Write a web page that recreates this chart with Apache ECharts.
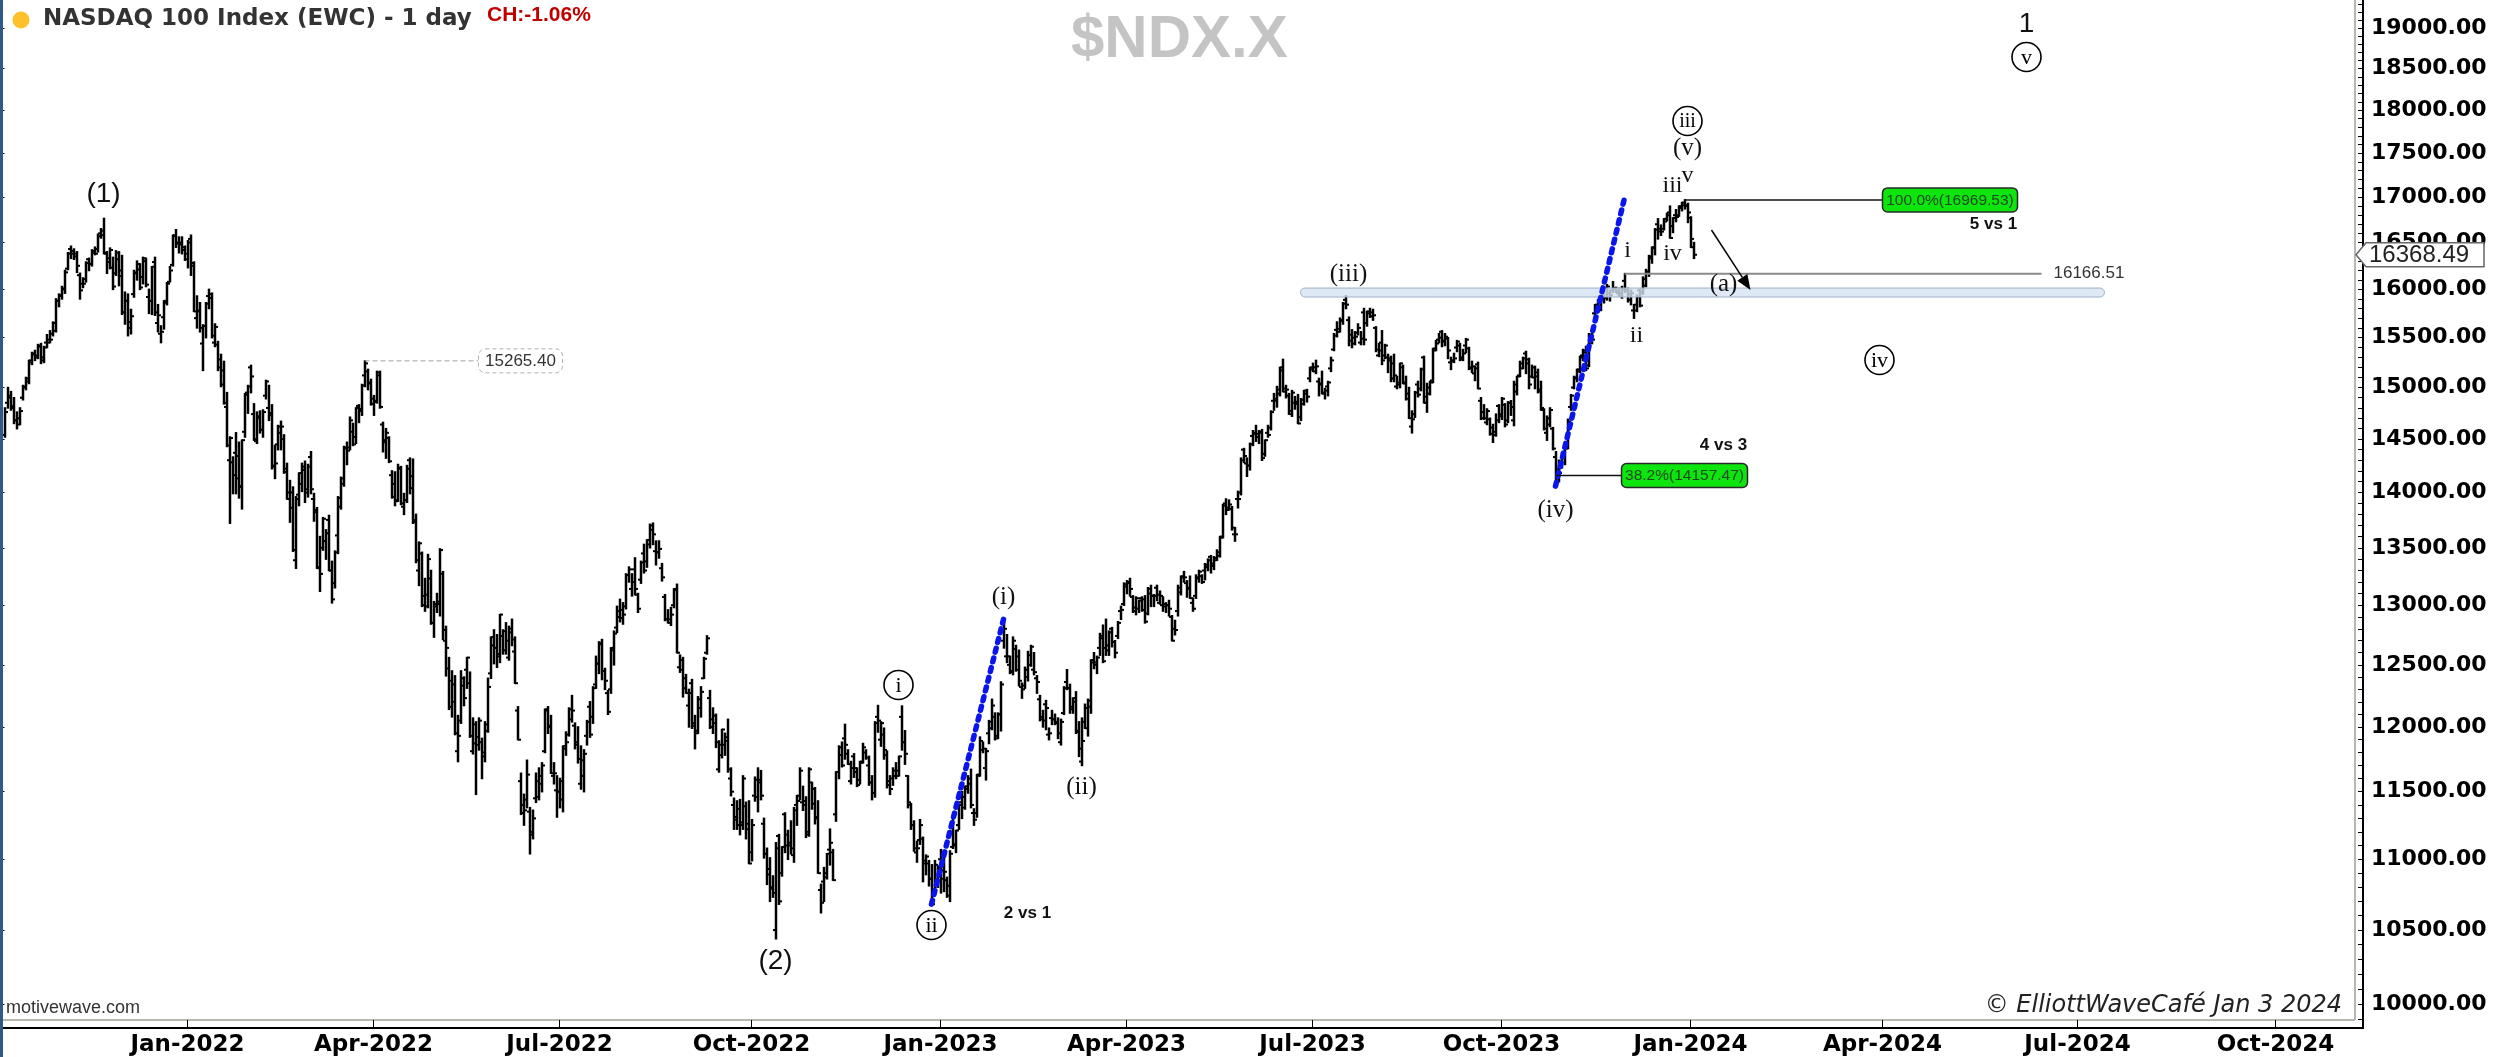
<!DOCTYPE html>
<html><head><meta charset="utf-8">
<script src="https://cdn.jsdelivr.net/npm/echarts/dist/echarts.min.js"></script>
<style>html,body{margin:0;padding:0;background:#fff;overflow:hidden}#chart{width:2494px;height:1057px}</style>
</head><body><div id="chart"></div>
<script>
// ---------------- DATA (daily OHLC of $NDX.X) ----------------
const oct2021 = [[14540,14800,14520,14760],[14850,15000,14800,14900],[14920,14960,14780,14820],[14800,14900,14650,14680],[14680,14760,14600,14640],[14700,14800,14640,14770],[14900,15020,14880,15000],[15010,15100,14980,15090],[15060,15270,15040,15250],[15270,15350,15230,15330],[15340,15370,15270,15320],[15300,15430,15290,15420],[15410,15440,15240,15270],[15300,15410,15250,15400],[15450,15530,15400,15450],[15480,15570,15450,15480],[15540,15660,15520,15650],[15570,15900,15560,15880]];
const nov2021 = [[15880,15950,15820,15930],[15940,16030,15900,16000],[16010,16200,15960,16180],[16220,16390,16210,16380],[16430,16460,16330,16380],[16410,16430,16320,16350],[16380,16400,16180,16250],[16150,16170,15900,15990],[16060,16120,16020,16060],[16110,16290,16080,16280],[16320,16330,16200,16270],[16270,16420,16250,16390],[16410,16450,16370,16380],[16430,16590,16400,16570],[16600,16650,16550,16580],[16630,16764,16380,16390],[16380,16400,16170,16330],[16290,16440,16220,16420],[16230,16340,16000,16030],[16170,16410,16150,16390],[16320,16400,16040,16140]];
const dec2021 = [[16200,16360,15740,15760],[15760,15970,15640,15880],[15880,15950,15520,15600],[15660,15790,15540,15720],[15950,16200,15920,16180],[16170,16300,16100,16270],[16210,16270,16000,16020],[16130,16340,16060,16330],[16300,16330,16030,16050],[15920,16000,15750,15880],[15880,16240,15740,16240],[16290,16340,15730,15760],[15650,15840,15560,15730],[15540,15620,15450,15560],[15710,15880,15590,15880],[15860,16070,15840,16060],[16080,16240,16080,16200],[16260,16580,16250,16570],[16580,16640,16450,16490],[16500,16560,16390,16500],[16480,16560,16380,16450],[16420,16460,16310,16320]];
const jan2022 = [[16380,16520,16230,16500],[16540,16580,16150,16280],[16250,16290,15770,15770],[15700,15930,15600,15770],[15780,15860,15560,15600],[15440,15630,15170,15620],[15620,15860,15500,15850],[15930,16000,15800,15910],[15950,15960,15500,15520],[15450,15640,15410,15610],[15430,15460,15170,15200],[15280,15330,15010,15030],[15170,15260,14840,14850],[14810,14950,14430,14440],[14300,14520,13720,14510],[14280,14330,13990,14160],[14370,14560,13990,14130],[14340,14470,13950,14050],[14060,14490,13850,14490],[14570,14940,14520,14930]];
const feb2022 = [[14950,15020,14750,15010],[15200,15220,14950,15110],[14740,14840,14490,14500],[14480,14760,14460,14700],[14720,14770,14560,14590],[14590,14780,14520,14760],[14920,15070,14890,15060],[14800,15020,14680,14730],[14750,14830,14220,14250],[14240,14440,14130,14270],[14450,14630,14400,14620],[14560,14670,14400,14620],[14500,14540,14180,14190],[14220,14270,13940,14000],[13940,14110,13730,13860],[14000,14050,13470,13480],[13390,13960,13320,13940],[13980,14180,13880,14180],[14080,14270,14010,14240]];
const mar2022 = [[14210,14290,13910,14000],[14030,14260,13960,14240],[14330,14380,13990,14030],[13940,13990,13740,13840],[13820,13860,13320,13320],[13330,13600,13120,13270],[13500,13770,13480,13760],[13560,13660,13400,13630],[13750,13790,13300,13300],[13300,13380,13020,13050],[13190,13470,13150,13460],[13610,13960,13450,13950],[13870,14140,13850,14130],[14080,14430,14060,14420],[14410,14470,14260,14390],[14420,14710,14400,14680],[14570,14650,14440,14450],[14520,14800,14460,14800],[14820,14830,14660,14790],[14770,15030,14730,15020],[15120,15265,15010,15240],[15160,15180,14980,15050],[15040,15080,14830,14840]];
const apr2022 = [[14890,14920,14730,14860],[14870,15160,14850,15150],[15120,15160,14800,14810],[14640,14660,14380,14490],[14470,14600,14320,14560],[14510,14520,14280,14290],[14160,14200,13950,13960],[14080,14190,13880,13920],[13930,14260,13920,14230],[14220,14240,13890,13900],[13870,13990,13800,13930],[13930,14250,13910,14220],[14300,14320,13990,14040],[14150,14310,13720,13750],[13730,13800,13370,13390],[13300,13550,13170,13540],[13450,13460,12990,13000],[13080,13230,12950,12990],[13090,13440,12980,13400],[13230,13300,12840,12850]];
const may2022 = [[12850,13030,12730,13010],[12990,13100,12940,13030],[13010,13490,12910,13480],[13270,13290,12710,12790],[12700,12820,12410,12640],[12470,12560,12140,12160],[12370,12450,12080,12340],[12200,12410,11940,11950],[11810,12090,11730,11930],[12050,12450,12030,12390],[12330,12400,12170,12230],[12460,12560,12310,12560],[12350,12440,11920,11930],[11810,12070,11790,11870],[12020,12040,11480,11860],[11920,12070,11820,12050],[11880,11910,11600,11800],[11770,12040,11730,11970],[12020,12390,11960,12320],[12430,12730,12390,12730],[12660,12790,12510,12640]];
const jun2022 = [[12640,12750,12480,12590],[12570,12920,12520,12920],[12740,12790,12590,12620],[12780,12850,12590,12700],[12560,12820,12540,12800],[12770,12880,12660,12710],[12610,12730,12350,12350],[12130,12160,11900,11900],[11580,11640,11330,11340],[11400,11480,11250,11360],[11440,11740,11380,11630],[11350,11380,11040,11180],[11200,11360,11150,11300],[11450,11640,11420,11580],[11460,11680,11440,11560],[11620,11720,11500,11700],[11810,12140,11800,12130],[12140,12160,11950,12000],[12010,12090,11640,11640],[11620,11720,11560,11640],[11510,11620,11310,11500]];
const jul2022 = [[11500,11600,11380,11580],[11440,11850,11350,11830],[11850,11960,11780,11880],[11940,12150,11930,12140],[12060,12250,12040,12130],[12010,12030,11830,11860],[11880,12000,11720,11750],[11560,11850,11520,11740],[11620,11820,11500,11790],[11930,12050,11860,12040],[12160,12200,11920,11940],[12080,12320,12030,12310],[12340,12570,12310,12510],[12510,12690,12430,12680],[12670,12710,12380,12450],[12450,12470,12300,12370],[12270,12290,12100,12120],[12300,12640,12270,12620],[12640,12780,12500,12760],[12810,12990,12770,12950]];
const aug2022 = [[12900,13050,12860,12960],[12890,13020,12840,12920],[12990,13270,12970,13260],[13260,13330,13200,13310],[13140,13270,13080,13200],[13310,13410,13090,13140],[13090,13100,12940,12970],[13220,13380,13190,13370],[13450,13530,13280,13300],[13380,13570,13330,13570],[13530,13710,13500,13700],[13660,13720,13530,13620],[13470,13560,13350,13460],[13460,13560,13410,13490],[13320,13360,13210,13240],[13070,13090,12870,12880],[12880,12960,12850,12880],[12850,12980,12830,12920],[13000,13140,12980,13140],[13130,13180,12600,12600],[12480,12580,12440,12460],[12540,12560,12240,12310],[12390,12420,12270,12270]];
const sep2022 = [[12170,12300,12000,12270],[12350,12380,11990,12010],[12030,12090,11830,11950],[11970,12240,11950,12220],[12150,12320,12080,12280],[12390,12560,12390,12550],[12600,12740,12590,12720],[12230,12290,11990,12000],[12060,12150,11950,12090],[12030,12100,11840,11880],[11670,11890,11650,11860],[11780,11980,11760,11980],[11860,11950,11780,11890],[11920,12060,11650,11670],[11600,11680,11470,11500],[11400,11450,11220,11310],[11290,11430,11220,11250],[11370,11440,11180,11270],[11250,11620,11220,11600],[11390,11420,11150,11260],[11220,11430,10970,10970]];
const oct2022 = [[11050,11290,10990,11250],[11470,11610,11430,11590],[11460,11680,11350,11590],[11570,11660,11440,11470],[11260,11300,11010,11040],[11040,11080,10820,10930],[10890,11010,10700,10790],[10800,10880,10730,10760],[10500,11120,10440,11080],[11170,11180,10680,10700],[10900,11090,10880,11090],[11330,11340,11050,11180],[11100,11210,11000,11120],[11100,11280,11040,11080],[11030,11380,10980,11360],[11400,11470,11250,11430],[11470,11680,11440,11660],[11420,11540,11360,11400],[11430,11460,11160,11180],[11200,11680,11170,11670],[11570,11570,11370,11410]];
const nov2022 = [[11520,11530,11260,11300],[11310,11430,10900,10900],[10780,10820,10620,10690],[10840,10940,10700,10870],[10900,11040,10860,11040],[11070,11220,10960,11120],[11050,11070,10850,10850],[11330,11650,11280,11650],[11650,11850,11600,11840],[11780,11880,11690,11700],[11910,12020,11750,11860],[11790,11820,11710,11710],[11580,11730,11560,11680],[11770,11790,11610,11680],[11650,11680,11540,11550],[11590,11730,11560,11720],[11730,11870,11720,11840],[11800,11820,11750,11760],[11700,11770,11550,11570],[11570,11620,11440,11490],[11490,12040,11460,12030]];
const dec2022 = [[12080,12170,11960,12050],[11900,12040,11850,12030],[11940,11990,11750,11820],[11780,11810,11530,11580],[11550,11620,11480,11520],[11600,11680,11550,11660],[11620,11720,11600,11620],[11660,11770,11620,11770],[12080,12166,11820,11880],[11880,11970,11710,11790],[11620,11620,11380,11420],[11400,11410,11220,11250],[11250,11280,11060,11080],[11050,11130,10980,11080],[11140,11290,11110,11250],[11150,11160,10840,10990],[10970,11030,10890,11020],[10970,10990,10810,10860],[10860,10960,10680,10680],[10780,10990,10770,10960],[10860,10950,10800,10940]];
const jan2023 = [[11000,11070,10760,10860],[10920,11010,10770,10910],[10850,10870,10730,10740],[10810,11060,10700,11040],[11090,11300,11080,11110],[11100,11210,11050,11210],[11250,11400,11220,11400],[11420,11500,11300,11460],[11380,11540,11370,11540],[11520,11620,11490,11560],[11600,11670,11380,11400],[11340,11370,11250,11290],[11340,11630,11310,11620],[11630,11920,11620,11890],[11820,11880,11800,11830],[11680,11830,11590,11810],[11950,12050,11870,12040],[11990,12220,11980,12170],[12080,12110,11900,11910],[11930,12110,11910,12100]];
const feb2023 = [[12100,12360,11970,12340],[12700,12880,12640,12800],[12570,12750,12520,12570],[12500,12570,12430,12450],[12440,12730,12420,12700],[12630,12660,12450,12460],[12570,12620,12330,12370],[12320,12350,12230,12300],[12330,12480,12310,12460],[12400,12610,12370,12580],[12500,12660,12490,12650],[12460,12600,12420,12440],[12390,12410,12270,12360],[12220,12250,12050,12060],[12080,12130,12000,12050],[12180,12210,11980,12150],[11940,11990,11900,11950],[12070,12130,12020,12060],[12060,12100,12020,12040]];
const mar2023 = [[12030,12070,11910,11950],[11880,12060,11860,12040],[12110,12320,12100,12310],[12360,12460,12300,12310],[12310,12340,12110,12140],[12160,12230,12110,12200],[12230,12280,11950,11960],[11970,12040,11770,11830],[11730,12070,11700,11890],[12040,12180,11990,12150],[11990,12220,11930,12210],[12160,12540,12110,12520],[12540,12600,12470,12520],[12500,12570,12430,12560],[12640,12760,12580,12740],[12720,12830,12520,12530],[12640,12880,12580,12660],[12620,12780,12580,12770],[12800,12810,12650,12690],[12690,12700,12560,12600],[12740,12860,12720,12850],[12950,12990,12880,12960],[13010,13190,13000,13180]];
const apr2023 = [[13160,13210,13100,13190],[13200,13230,13080,13140],[13070,13080,12940,12980],[12950,13070,12920,13060],[12970,13040,12940,13040],[13060,13070,12950,12960],[13050,13080,12850,12860],[12930,13150,12920,13140],[13100,13170,12990,13080],[13080,13090,12990,13080],[13150,13170,13040,13090],[13020,13120,13010,13080],[13000,13070,12950,12990],[13010,13020,12940,13000],[13000,13040,12910,12970],[12900,12910,12700,12700],[12800,12870,12750,12790],[12950,13170,12910,13150],[13110,13250,13090,13250]];
const may2023 = [[13240,13290,13200,13240],[13190,13210,13070,13140],[13150,13250,13060,13060],[13020,13060,12950,12970],[13080,13260,13060,13240],[13230,13300,13200,13290],[13250,13260,13190,13200],[13300,13360,13220,13350],[13330,13400,13300,13390],[13420,13430,13280,13340],[13360,13420,13310,13410],[13390,13480,13390,13430],[13460,13600,13420,13590],[13600,13890,13590,13880],[13900,13940,13800,13840],[13860,13930,13840,13890],[13850,13870,13660,13680],[13620,13680,13560,13620],[13940,14010,13860,13940],[14000,14320,13980,14300],[14400,14410,14280,14340],[14270,14320,14150,14250]];
const jun2023 = [[14250,14460,14210,14450],[14530,14580,14440,14550],[14560,14630,14480,14550],[14520,14580,14460,14560],[14570,14590,14300,14320],[14360,14490,14340,14490],[14560,14630,14520,14540],[14610,14770,14590,14760],[14870,14940,14780,14870],[14890,15010,14810,14980],[14940,15200,14920,15170],[15200,15280,14960,14990],[14960,15020,14900,14980],[14920,14940,14740,14770],[14740,14970,14720,14950],[14850,14910,14790,14840],[14860,14930,14650,14650],[14710,14890,14680,14880],[14840,14970,14830,14940],[14970,14980,14860,14910],[15090,15200,15060,15180]];
const jul2023 = [[15200,15240,15160,15200],[15160,15270,15140,15210],[15060,15090,14920,15040],[15030,15160,14940,14940],[14950,14990,14890,14970],[15010,15060,14920,15050],[15190,15300,15160,15270],[15380,15540,15370,15520],[15580,15660,15510,15560],[15590,15700,15560,15670],[15680,15860,15640,15850],[15890,15932,15800,15840],[15680,15710,15420,15470],[15530,15580,15400,15440],[15500,15560,15430,15510],[15550,15640,15530,15600],[15450,15560,15430,15490],[15760,15800,15430,15480],[15650,15770,15620,15750],[15770,15800,15710,15760]];
const aug2023 = [[15720,15790,15680,15730],[15600,15610,15360,15380],[15320,15440,15310,15370],[15450,15570,15230,15270],[15320,15430,15290,15420],[15300,15330,15150,15270],[15290,15310,15060,15090],[15240,15330,15060,15120],[15010,15110,14990,15050],[15030,15240,15000,15240],[15200,15220,15040,15050],[15040,15110,14880,14890],[14940,15000,14700,14700],[14620,14770,14560,14690],[14740,14960,14710,14950],[15030,15060,14910,14930],[14990,15190,14970,15180],[15300,15310,14850,14850],[14910,15040,14760,14940],[15000,15060,14930,15050],[15070,15390,15050,15370],[15390,15470,15370,15440],[15480,15540,15450,15500]];
const sep2023 = [[15560,15570,15410,15470],[15460,15540,15420,15510],[15490,15500,15290,15370],[15250,15300,15180,15260],[15270,15340,15250,15290],[15400,15470,15360,15460],[15420,15440,15270,15280],[15300,15380,15270,15340],[15420,15490,15350,15480],[15390,15400,15180,15200],[15190,15260,15150,15210],[15140,15210,15070,15190],[15230,15250,14990,14990],[14870,14900,14690,14700],[14760,14830,14690,14700],[14660,14790,14640,14770],[14690,14700,14540,14550],[14610,14640,14470,14570],[14540,14740,14530,14680],[14820,14830,14660,14720]];
const oct2023 = [[14740,14900,14690,14890],[14830,14840,14620,14640],[14680,14860,14660,14850],[14850,14870,14730,14810],[14680,15060,14630,15030],[14960,15110,14930,15110],[15120,15260,15110,15190],[15240,15300,15190,15290],[15340,15360,15140,15240],[15280,15290,14990,15030],[15110,15220,15100,15200],[15100,15210,14990,15150],[15110,15180,14950,14960],[14980,15060,14780,14800],[14780,14790,14590,14600],[14560,14720,14490,14640],[14700,14800,14620,14780],[14600,14610,14400,14410],[14330,14380,14058,14110],[14220,14300,14100,14180],[14270,14370,14230,14340],[14330,14420,14260,14410]];
const nov2023 = [[14430,14690,14410,14670],[14810,14930,14780,14920],[15000,15110,14990,15100],[15090,15180,15060,15160],[15180,15310,15150,15300],[15320,15380,15270,15350],[15370,15410,15170,15190],[15220,15540,15210,15530],[15450,15540,15440,15480],[15750,15840,15710,15810],[15840,15890,15800,15830],[15810,15920,15780,15910],[15940,15950,15860,15910],[15910,16050,15890,16030],[15960,15990,15880,15940],[15990,16080,15970,16010],[16010,16020,15970,15980],[15960,16010,15930,15960],[15930,16030,15910,16000],[16090,16166.51,15970,15990],[15990,16010,15870,15950]];
const dec2023 = [[15890,15990,15840,15960],[15780,15840,15700,15840],[15780,15940,15770,15920],[15990,16000,15820,15830],[15970,16130,15950,16110],[16040,16210,16030,16190],[16170,16360,16140,16350],[16330,16450,16280,16450],[16440,16650,16370,16640],[16700,16760,16540,16620],[16650,16690,16580,16620],[16650,16760,16640,16730],[16760,16820,16740,16800],[16830,16900,16550,16550],[16680,16770,16610,16770],[16800,16860,16730,16780],[16800,16900,16790,16880],[16900,16940,16850,16910],[16940,16969.53,16870,16900],[16910,16930,16720,16830]];
const jan2024 = [[16770,16780,16450,16540],[16450,16500,16330,16368.49]];

// trading calendar
const holidays = ['2021-11-25','2021-12-24','2022-01-17','2022-02-21','2022-04-15','2022-05-30','2022-06-20','2022-07-04','2022-09-05','2022-11-24','2022-12-26','2023-01-02','2023-01-16','2023-02-20','2023-04-07','2023-05-29','2023-06-19','2023-07-04','2023-09-04','2023-11-23','2023-12-25','2024-01-01'];
const firstTradingDay = '2021-10-06';
const lastTradingDay = '2024-01-03';
const categoryCount = 784;

// price axis
const yTickLabels = [10000,10500,11000,11500,12000,12500,13000,13500,14000,14500,15000,15500,16000,16500,17000,17500,18000,18500,19000];
const priceAxisMin = 9897, priceAxisMax = 19353;
const monthNames = ['Jan','Feb','Mar','Apr','May','Jun','Jul','Aug','Sep','Oct','Nov','Dec'];

// annotations: [date, price, text, kind]
const waveLabels = [
  ['2021-11-22',17035,'(1)','sans'],
  ['2022-10-13',10288,'(2)','sans'],
  ['2024-06-06',19050,'1','sans'],
  ['2024-06-06',18641,'v','circle'],
  ['2023-12-29',17873,'iii','circle'],
  ['2023-12-29',17559,'(v)','serif'],
  ['2023-12-21',17125,'iii','small'],
  ['2023-12-29',17238,'v','small'],
  ['2023-11-30',16409,'i','small'],
  ['2023-12-21',16377,'iv','small'],
  ['2023-12-05',15517,'ii','small'],
  ['2024-01-17',16057,'(a)','serif'],
  ['2023-07-20',16163,'(iii)','serif'],
  ['2023-10-26',13840,'(iv)','serif'],
  ['2023-02-02',13070,'(i)','serif'],
  ['2022-12-12',12336,'i','circle'],
  ['2023-03-13',11534,'(ii)','serif'],
  ['2022-12-28',10535,'ii','circle'],
  ['2024-03-29',15274,'iv','circle']
];
const ratioNotes = [['2023-02-14',10618,'2 vs 1'],['2024-01-17',14444,'4 vs 3'],['2024-05-22',16697,'5 vs 1']];
const waveLines = [['2022-12-28',10680,'2023-02-02',12880],['2023-10-26',14058,'2023-11-29',16990]];
const fibTargets = [['2023-12-28',16969.53,'2024-04-01','2024-06-03','100.0%(16969.53)'],['2023-10-26',14157.47,'2023-11-28','2024-01-29','38.2%(14157.47)']];
const levelLines = [['2023-11-29','2024-06-13',16166.51,'16166.51']];
const priorHighs = [['2022-03-29','2022-05-23','2022-07-05',15265.40,'15265.40']];
const zones = [['2023-06-27','2024-07-12',15920,16014]];
const arrows = [['2024-01-11',16637,'2024-01-30',15994]];
const lastPrice = [['2024-01-03',16368.49,'16368.49']];

// ---------------- BUILD ----------------
const months = [oct2021,nov2021,dec2021,jan2022,feb2022,mar2022,apr2022,may2022,jun2022,jul2022,aug2022,sep2022,oct2022,nov2022,dec2022,jan2023,feb2023,mar2023,apr2023,may2023,jun2023,jul2023,aug2023,sep2023,oct2023,nov2023,dec2023,jan2024];
const bars = [].concat(...months);

function ymd(d){return d.getUTCFullYear()+'-'+String(d.getUTCMonth()+1).padStart(2,'0')+'-'+String(d.getUTCDate()).padStart(2,'0');}
const categories = [];
(function(){
  const p = firstTradingDay.split('-').map(Number);
  const d = new Date(Date.UTC(p[0],p[1]-1,p[2]));
  while (categories.length < categoryCount) {
    const wd = d.getUTCDay(), s = ymd(d);
    if (wd !== 0 && wd !== 6 && !(s <= lastTradingDay && holidays.indexOf(s) >= 0)) categories.push(s);
    d.setUTCDate(d.getUTCDate()+1);
  }
})();
const catIndex = {}; categories.forEach((c,i)=>{catIndex[c]=i;});
function ix(s){ if(!(s in catIndex)) throw new Error('missing date '+s); return catIndex[s]; }
if (categories[bars.length-1] !== lastTradingDay) throw new Error('bar count mismatch '+bars.length+' '+categories[bars.length-1]);

const L = Math.log;
const ohlcData = bars.map((b,i)=>[i, L(b[0]), L(b[1]), L(b[2]), L(b[3])]);

function isQuarterStart(index, value){
  if (index === 0) return false;
  const m = +value.slice(5,7), pm = +categories[index-1].slice(5,7);
  return m !== pm && (m===1||m===4||m===7||m===10);
}
const minorTicks = []; for (let v = 9900; v <= 19300; v += 100) minorTicks.push(L(v));

function txt(x,y,text,font,fill,align){
  return {type:'text', x:x, y:y, style:{text:text, font:font, fill:fill||'#000', align:align||'center', verticalAlign:'middle', textAlign:align||'center', textVerticalAlign:'middle'}};
}

const chart = echarts.init(document.getElementById('chart'), null, {renderer:'canvas'});
const option = {
  animation:false,
  backgroundColor:'#ffffff',
  title:[
    {text:'NASDAQ 100 Index (EWC) - 1 day', left:43, top:8, padding:0, textStyle:{fontFamily:'DejaVu Sans', fontWeight:'bold', fontSize:23, color:'#333333'}},
    {text:'CH:-1.06%', left:487, top:5, padding:0, textStyle:{fontFamily:'Liberation Sans', fontWeight:'bold', fontSize:21, color:'#c00000'}},
    {text:'$NDX.X', left:1071, top:10, padding:0, textStyle:{fontFamily:'Liberation Sans', fontWeight:'bold', fontSize:60, color:'#c4c4c4'}}
  ],
  grid:{left:3, top:0, right:139, bottom:37, containLabel:false},
  xAxis:[
    {type:'category', data:categories, boundaryGap:true, position:'bottom', offset:8,
     axisLine:{show:false},
     axisTick:{show:true, inside:true, length:8, alignWithLabel:true, interval:isQuarterStart, lineStyle:{color:'#000', width:1}},
     axisLabel:{show:true, interval:isQuarterStart, margin:6, color:'#000', fontFamily:'DejaVu Sans', fontWeight:'bold', fontSize:23,
       formatter:(v)=>monthNames[+v.slice(5,7)-1]+'-'+v.slice(0,4)},
     splitLine:{show:false}},
    {type:'value', min:-0.5, max:categoryCount-0.5, show:false}
  ],
  yAxis:[
    {type:'value', position:'right', offset:8, min:L(priceAxisMin), max:L(priceAxisMax),
     axisLine:{show:false},
     axisTick:{show:true, inside:true, length:8, customValues:yTickLabels.map(L), lineStyle:{color:'#000', width:1}},
     axisLabel:{show:true, customValues:yTickLabels.map(L), margin:8, color:'#000', fontFamily:'DejaVu Sans', fontWeight:'bold', fontSize:22,
       formatter:(v)=>Math.round(Math.exp(v)).toFixed(2)},
     splitLine:{show:false}},
    {type:'value', position:'right', offset:8, min:L(priceAxisMin), max:L(priceAxisMax),
     axisLine:{show:false}, axisLabel:{show:false}, splitLine:{show:false},
     axisTick:{show:true, inside:true, length:5, customValues:minorTicks, lineStyle:{color:'#000', width:1}}}
  ],
  graphic:[
    {type:'line', shape:{x1:0,y1:1020,x2:2355,y2:1020}, style:{stroke:'#b8b8b0', lineWidth:2}},
    {type:'line', shape:{x1:2355,y1:0,x2:2355,y2:1020}, style:{stroke:'#b8b8b0', lineWidth:2}},
    {type:'line', shape:{x1:0,y1:1028,x2:2364,y2:1028}, style:{stroke:'#000', lineWidth:2}},
    {type:'line', shape:{x1:2363,y1:0,x2:2363,y2:1029}, style:{stroke:'#000', lineWidth:2}},
    {type:'rect', shape:{x:0,y:0,width:3,height:1057}, style:{fill:'#2d5a87'}, z:100},
    {type:'circle', shape:{cx:21,cy:20,r:8.5}, style:{fill:'#fcc12b'}},
    {type:'text', x:6, y:1008, style:{text:'motivewave.com', font:'18px "Liberation Sans"', fill:'#333', textVerticalAlign:'middle', verticalAlign:'middle'}},
    {type:'text', x:2342, y:1006, style:{text:'\u00a9 ElliottWaveCaf\u00e9 Jan 3 2024', font:'italic 24px "DejaVu Sans"', fill:'#222', textAlign:'right', align:'right', textVerticalAlign:'middle', verticalAlign:'middle'}}
  ],
  series:[
    {type:'custom', name:'NDX', xAxisIndex:1, yAxisIndex:0, silent:true, z:2,
     dimensions:['i','open','high','low','close'], encode:{x:0, y:[1,2,3,4]},
     data:ohlcData,
     renderItem:(params, api)=>{
       const i = api.value(0);
       const o = api.coord([i, api.value(1)]), h = api.coord([i, api.value(2)]);
       const l = api.coord([i, api.value(3)]), c = api.coord([i, api.value(4)]);
       const x = Math.round(h[0]);
       return {type:'group', children:[
         {type:'line', shape:{x1:x,y1:h[1]-0.75,x2:x,y2:l[1]+0.75}, style:{stroke:'#000', lineWidth:2.5}},
         {type:'line', shape:{x1:x-3,y1:o[1],x2:x,y2:o[1]}, style:{stroke:'#000', lineWidth:2}},
         {type:'line', shape:{x1:x,y1:c[1],x2:x+3,y2:c[1]}, style:{stroke:'#000', lineWidth:2}}
       ]};
     }},
    {type:'custom', name:'Zone', xAxisIndex:1, yAxisIndex:0, silent:true, z:4,
     data:zones.map(z=>[ix(z[0]), L(z[2])]),
     renderItem:(params, api)=>{
       const z = zones[params.dataIndex];
       const a = api.coord([ix(z[0]), L(z[3])]), b = api.coord([ix(z[1]), L(z[2])]);
       const hgt = b[1]-a[1];
       return {type:'rect', shape:{x:a[0], y:a[1], width:b[0]-a[0], height:hgt, r:hgt/2}, style:{fill:'rgba(214,228,242,0.8)', stroke:'#9fb2c6', lineWidth:1}};
     }},
    {type:'custom', name:'Wave lines', xAxisIndex:1, yAxisIndex:0, silent:true, z:5,
     data:waveLines.map(w=>[ix(w[0]), L(w[1])]),
     renderItem:(params, api)=>{
       const w = waveLines[params.dataIndex];
       const a = api.coord([ix(w[0]), L(w[1])]), b = api.coord([ix(w[2]), L(w[3])]);
       return {type:'line', shape:{x1:a[0],y1:a[1],x2:b[0],y2:b[1]}, style:{stroke:'#0a14ee', lineWidth:5.5, lineDash:[4,6], lineCap:'round'}};
     }},
    {type:'custom', name:'Fib targets', xAxisIndex:1, yAxisIndex:0, silent:true, z:6,
     data:fibTargets.map(f=>[ix(f[0]), L(f[1])]),
     renderItem:(params, api)=>{
       const f = fibTargets[params.dataIndex];
       const a = api.coord([ix(f[0]), L(f[1])]), b0 = api.coord([ix(f[2]), L(f[1])]), b1 = api.coord([ix(f[3]), L(f[1])]);
       return {type:'group', children:[
         {type:'line', shape:{x1:a[0],y1:a[1],x2:b0[0],y2:b0[1]}, style:{stroke:'#111', lineWidth:1.5}},
         {type:'rect', shape:{x:b0[0], y:b0[1]-12, width:b1[0]-b0[0], height:24, r:5}, style:{fill:'#0ee40e', stroke:'#2a2a2a', lineWidth:1.5}},
         txt((b0[0]+b1[0])/2, b0[1]+0.5, f[4], '15.5px "Liberation Sans"', '#1f4a1f')
       ]};
     }},
    {type:'custom', name:'Level lines', xAxisIndex:1, yAxisIndex:0, silent:true, z:6,
     data:levelLines.map(s=>[ix(s[0]), L(s[2])]),
     renderItem:(params, api)=>{
       const s = levelLines[params.dataIndex];
       const a = api.coord([ix(s[0]), L(s[2])]), b = api.coord([ix(s[1]), L(s[2])]);
       return {type:'group', children:[
         {type:'line', shape:{x1:a[0],y1:a[1],x2:b[0],y2:b[1]}, style:{stroke:'#8a8a8a', lineWidth:2}},
         txt(b[0]+12, b[1], s[3], '17px "Liberation Sans"', '#333', 'left')
       ]};
     }},
    {type:'custom', name:'Prior highs', xAxisIndex:1, yAxisIndex:0, silent:true, z:6,
     data:priorHighs.map(s=>[ix(s[0]), L(s[3])]),
     renderItem:(params, api)=>{
       const s = priorHighs[params.dataIndex];
       const a = api.coord([ix(s[0]), L(s[3])]), b0 = api.coord([ix(s[1]), L(s[3])]), b1 = api.coord([ix(s[2]), L(s[3])]);
       return {type:'group', children:[
         {type:'line', shape:{x1:a[0],y1:a[1],x2:b0[0],y2:b0[1]}, style:{stroke:'#a0a0a0', lineWidth:1, lineDash:[5,3]}},
         {type:'rect', shape:{x:b0[0], y:b0[1]-12, width:b1[0]-b0[0], height:24, r:7}, style:{fill:'#fff', stroke:'#b0b0b0', lineWidth:1, lineDash:[4,3]}},
         txt((b0[0]+b1[0])/2, b0[1], s[4], '17px "Liberation Sans"', '#333')
       ]};
     }},
    {type:'custom', name:'Arrows', xAxisIndex:1, yAxisIndex:0, silent:true, z:6,
     data:arrows.map(s=>[ix(s[0]), L(s[1])]),
     renderItem:(params, api)=>{
       const s = arrows[params.dataIndex];
       const a = api.coord([ix(s[0]), L(s[1])]), b = api.coord([ix(s[2]), L(s[3])]);
       const dx = b[0]-a[0], dy = b[1]-a[1], len = Math.sqrt(dx*dx+dy*dy), ux = dx/len, uy = dy/len;
       const hl = 15, hw = 6;
       const bx = b[0]-ux*hl, by = b[1]-uy*hl;
       return {type:'group', children:[
         {type:'line', shape:{x1:a[0],y1:a[1],x2:bx,y2:by}, style:{stroke:'#000', lineWidth:1.5}},
         {type:'polygon', shape:{points:[[b[0],b[1]],[bx-uy*hw,by+ux*hw],[bx+uy*hw,by-ux*hw]]}, style:{fill:'#000'}}
       ]};
     }},
    {type:'custom', name:'Ratio notes', xAxisIndex:1, yAxisIndex:0, silent:true, z:7,
     data:ratioNotes.map(r=>[ix(r[0]), L(r[1])]),
     renderItem:(params, api)=>{
       const r = ratioNotes[params.dataIndex];
       const p = api.coord([ix(r[0]), L(r[1])]);
       return txt(p[0], p[1], r[2], 'bold 17px "Liberation Sans"', '#111');
     }},
    {type:'custom', name:'Wave labels', xAxisIndex:1, yAxisIndex:0, silent:true, z:8,
     data:waveLabels.map(w=>[ix(w[0]), L(w[1])]),
     renderItem:(params, api)=>{
       const w = waveLabels[params.dataIndex];
       const p = api.coord([ix(w[0]), L(w[1])]);
       if (w[3] === 'circle') {
         return {type:'group', children:[
           {type:'circle', shape:{cx:p[0], cy:p[1], r:14.5}, style:{fill:'#fff', stroke:'#000', lineWidth:1.6}},
           txt(p[0], p[1]+1, w[2], (w[2].length>2?'20px':'22px')+' "Liberation Serif"', '#000')
         ]};
       }
       if (w[3] === 'sans') return txt(p[0], p[1], w[2], '28px "Liberation Sans"', '#111');
       if (w[3] === 'small') return txt(p[0], p[1], w[2], '24px "Liberation Serif"', '#111');
       return txt(p[0], p[1], w[2], '25px "Liberation Serif"', '#111');
     }},
    {type:'custom', name:'Last price', xAxisIndex:1, yAxisIndex:0, silent:true, z:20, clip:false,
     data:lastPrice.map(s=>[ix(s[0]), L(s[1])]),
     renderItem:(params, api)=>{
       const s = lastPrice[params.dataIndex];
       const p = api.coord([categoryCount-0.5, L(s[1])]);
       const x0 = p[0]+1, y = p[1];
       return {type:'group', children:[
         {type:'polygon', shape:{points:[[x0,y],[x0+10,y-12],[x0+128,y-12],[x0+128,y+12],[x0+10,y+12]]}, style:{fill:'#fff', stroke:'#666', lineWidth:1.5}},
         txt(x0+13, y+0.5, s[2], '24px "Liberation Sans"', '#222', 'left')
       ]};
     }}
  ]
};
chart.setOption(option);
</script></body></html>
